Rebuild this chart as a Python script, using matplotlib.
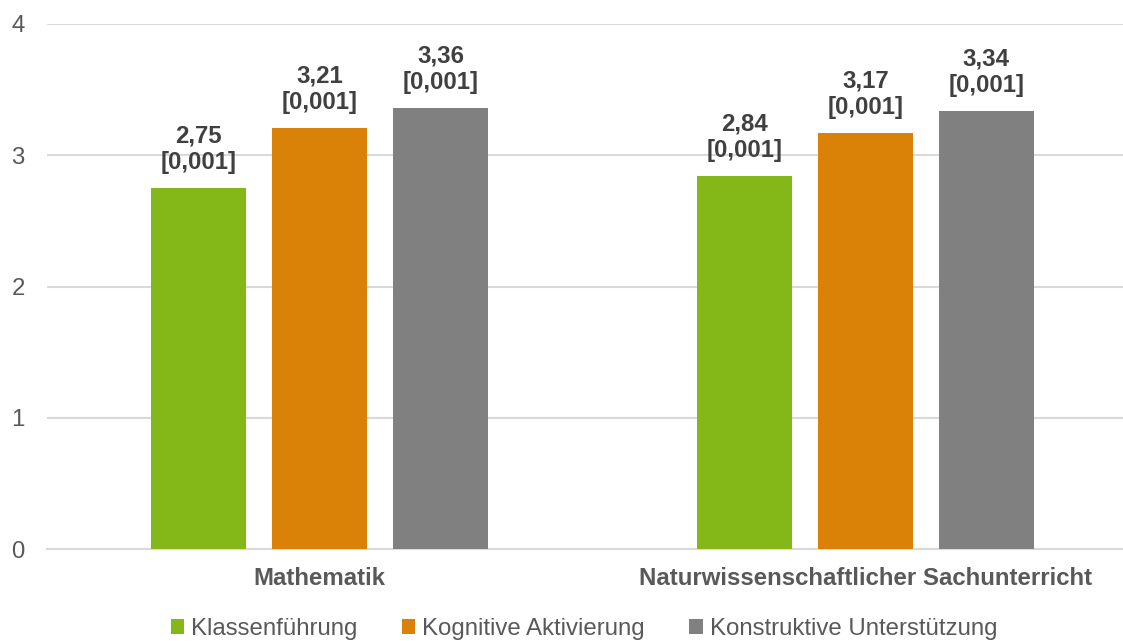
import matplotlib
matplotlib.use("Agg")
import matplotlib.pyplot as plt
import numpy as np

categories = ["Mathematik", "Naturwissenschaftlicher Sachunterricht"]
series_names = ["Klassenführung", "Kognitive Aktivierung", "Konstruktive Unterstützung"]
values = {
    "Klassenführung": [2.75, 2.84],
    "Kognitive Aktivierung": [3.21, 3.17],
    "Konstruktive Unterstützung": [3.36, 3.34],
}
se_labels = {
    "Klassenführung": ["0,001", "0,001"],
    "Kognitive Aktivierung": ["0,001", "0,001"],
    "Konstruktive Unterstützung": ["0,001", "0,001"],
}
colors = ["#84B819", "#DA8208", "#808080"]
yticks = [0, 1, 2, 3, 4]

plt.rcParams['font.family'] = ['Liberation Sans', 'DejaVu Sans']
FS = 17.3

W, H = 1123, 641
fig = plt.figure(figsize=(W / 100, H / 100), dpi=100)
ax_left, ax_right = 47, 1123
ax_top, ax_bottom = 24, 549.3
ax = fig.add_axes([ax_left / W, 1 - ax_bottom / H, (ax_right - ax_left) / W, (ax_bottom - ax_top) / H])

x = np.arange(len(categories))
step = 0.2218
width = 0.174
for i, name in enumerate(series_names):
    pos = x + (i - 1) * step
    bars = ax.bar(pos, values[name], width=width, color=colors[i], label=name, zorder=3)
    for p, v, s in zip(pos, values[name], se_labels[name]):
        ax.annotate(f"{v:.2f}".replace(".", ",") + f"\n[{s}]", (p, v),
                    xytext=(0, 10), textcoords="offset points", ha="center", va="bottom",
                    fontsize=FS, fontweight="bold", color="#404040", linespacing=1.2,
                    zorder=4)

ax.set_xlim(-0.5, -0.5 + (ax_right - ax_left) / 545.5)
ax.set_ylim(0, 4)
ax.set_yticks(yticks)
ax.set_yticklabels([str(t) for t in yticks])
ax.yaxis.grid(True, color="#D9D9D9", linewidth=1.5, zorder=0)
ax.set_axisbelow(True)
for sp in ["top", "right", "left"]:
    ax.spines[sp].set_visible(False)
ax.spines["bottom"].set_color("#D9D9D9")
ax.spines["bottom"].set_linewidth(1.5)
ax.tick_params(axis="y", length=0, labelsize=FS, labelcolor="#595959", pad=16)
ax.tick_params(axis="x", length=0, labelsize=FS, labelcolor="#595959", pad=13)
ax.set_xticks(x)
ax.set_xticklabels(categories, fontweight="bold")

leg = fig.legend(loc="center", bbox_to_anchor=(584 / W, 1 - 629 / H),
                 ncol=3, frameon=False, fontsize=FS, handlelength=0.55, handleheight=0.55,
                 handletextpad=0.3, columnspacing=1.85, labelcolor="#595959")

fig.savefig("out.png", dpi=100)
